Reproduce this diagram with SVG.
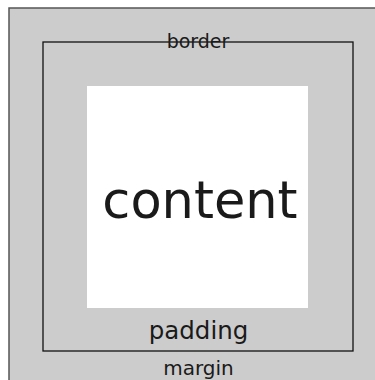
<svg xmlns="http://www.w3.org/2000/svg" width="375" height="380" viewBox="0 0 375 380">
<style>
text{font-family:"DejaVu Sans","Verdana",sans-serif;fill:#1a1a1a;text-anchor:middle}
</style>
<rect width="375" height="380" fill="#ffffff"/>
<g id="margin">
<rect x="9" y="8" width="370" height="376" fill="#cccccc" stroke="#555555" stroke-width="1.5"/>
<text x="198.5" y="375" font-size="20">margin</text>
</g>
<g id="border">
<rect x="43" y="42" width="310" height="309" fill="none" stroke="#111111" stroke-width="1.3"/>
<text x="198" y="48" font-size="19">border</text>
</g>
<g id="padding">
<text x="198.5" y="339" font-size="24.5">padding</text>
</g>
<g id="content">
<rect x="87" y="86" width="221" height="222" fill="#ffffff"/>
<text x="200" y="218" font-size="51">content</text>
</g>
</svg>
